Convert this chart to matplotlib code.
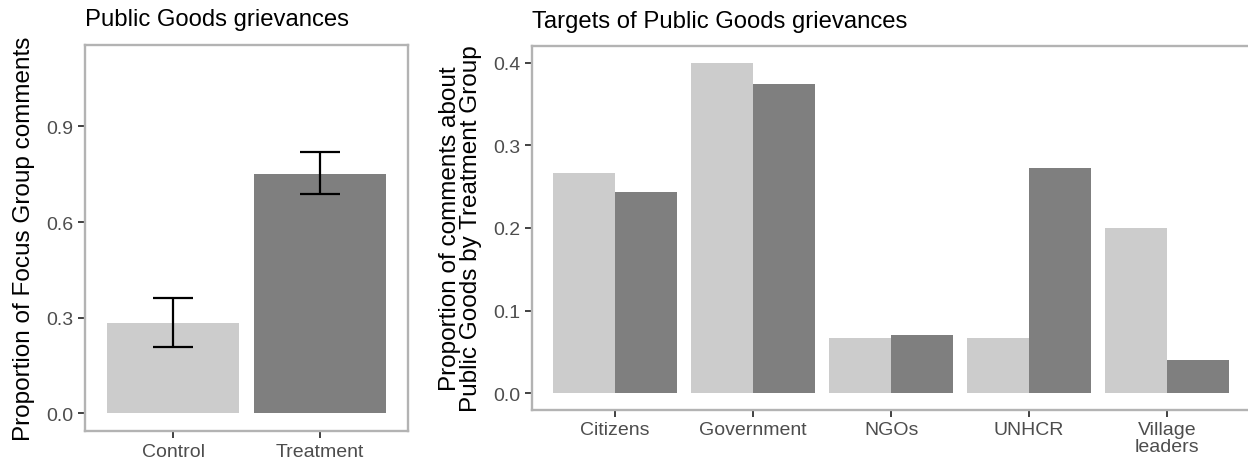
import numpy as np
import matplotlib.pyplot as plt

plt.rcParams['font.family'] = ['Liberation Sans', 'DejaVu Sans']

# left panel: overall share of public goods comments
groups = ["Control", "Treatment"]
share = [0.285, 0.751]
share_lo = [0.208, 0.687]
share_hi = [0.363, 0.818]

# right panel: targets of public goods grievances
targets = ["Citizens", "Government", "NGOs", "UNHCR", "Village\nleaders"]
target_control = [0.267, 0.400, 0.067, 0.067, 0.200]
target_treatment = [0.243, 0.374, 0.070, 0.273, 0.040]

LIGHT = "#cccccc"
DARK = "#7f7f7f"
FRAME = "#b3b3b3"
TICKTXT = "#4d4d4d"


def style(ax):
    for s in ax.spines.values():
        s.set_color(FRAME)
        s.set_linewidth(1.7)
    ax.tick_params(axis="both", colors="#333333", labelcolor=TICKTXT,
                   labelsize=14, length=5, width=1.3)


fig = plt.figure(figsize=(12.48, 4.64), dpi=100)

ax1 = fig.add_axes([0.068, 0.069, 0.259, 0.832])
x = np.arange(1, len(groups) + 1)
ax1.bar(x, share, width=0.9, color=[LIGHT, DARK])
err = [np.array(share) - np.array(share_lo), np.array(share_hi) - np.array(share)]
ax1.errorbar(x, share, yerr=err, fmt="none", ecolor="black", elinewidth=1.6,
             capsize=14.5, capthick=1.6)
ax1.set_xlim(0.4, 2.6)
ax1.set_ylim(-0.055, 1.155)
ax1.set_xticks(x)
ax1.set_xticklabels(groups)
ax1.set_yticks([0.0, 0.3, 0.6, 0.9])
ax1.set_ylabel("Proportion of Focus Group comments", fontsize=17.5, labelpad=8)
ax1.set_title("Public Goods grievances", fontsize=17.2, loc="left", pad=14)
style(ax1)

ax2 = fig.add_axes([0.4265, 0.115, 0.575, 0.783])
xt = np.arange(1, len(targets) + 1)
ax2.bar(xt - 0.225, target_control, width=0.45, color=LIGHT)
ax2.bar(xt + 0.225, target_treatment, width=0.45, color=DARK)
ax2.set_xlim(0.4, 5.6)
ax2.set_ylim(-0.02, 0.42)
ax2.set_xticks(xt)
ax2.set_xticklabels(targets, linespacing=1.0)
ax2.set_yticks([0.0, 0.1, 0.2, 0.3, 0.4])
ax2.set_ylabel("Proportion of comments about\nPublic Goods by Treatment Group",
               fontsize=17.5, labelpad=8, linespacing=0.95)
ax2.set_title("Targets of Public Goods grievances", fontsize=17.2, loc="left", pad=14)
style(ax2)

fig.savefig("out.png", dpi=100)
